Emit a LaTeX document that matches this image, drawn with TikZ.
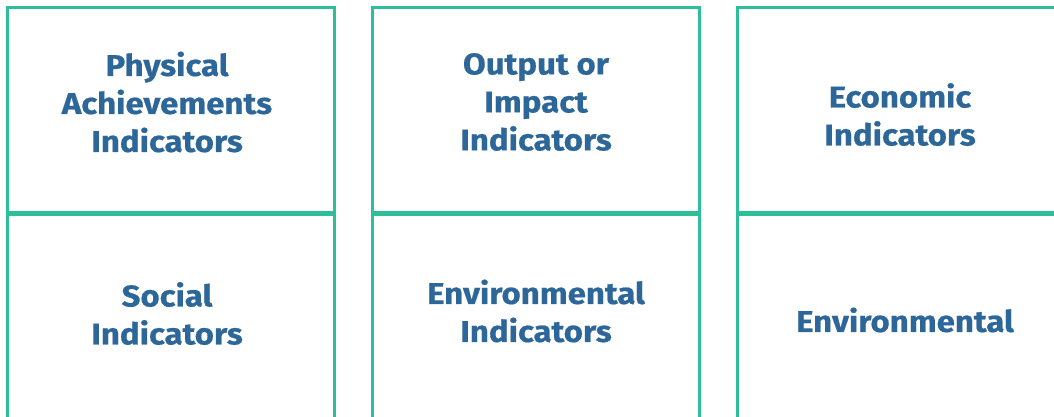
\documentclass[tikz,border=0pt]{standalone}
\usepackage{fontspec}
\setmainfont{Fira Sans}[BoldFont={Fira Sans Bold},BoldFeatures={FakeStretch=1.1,FakeBold=0.6}]
\definecolor{teal}{HTML}{2EBE9A}
\definecolor{ink}{HTML}{2D6699}
\begin{document}
\begin{tikzpicture}[x=1pt,y=-1pt,
  frame/.style={draw=teal,line width=3pt},
  divider/.style={draw=teal,line width=4.5pt},
  lbl/.style={text=ink,font=\bfseries\fontsize{30}{38}\selectfont,align=center,inner sep=0pt}]
\useasboundingbox (0,0) rectangle (1054,416);
% column outlines
\draw[frame] (7.5,430) -- (7.5,7.5) -- (334.5,7.5) -- (334.5,430);
\draw[frame] (372,430) -- (372,7.5) -- (699.7,7.5) -- (699.7,430);
\draw[frame] (737,430) -- (737,7.5) -- (1070,7.5);
% dividers
\draw[divider] (7.5,213.5) -- (334.5,213.5);
\draw[divider] (372,213.5) -- (699.7,213.5);
\draw[divider] (737,213.5) -- (1070,213.5);
% labels
\node[lbl] (a) at (167,102) {Physical\\Achievements\\Indicators};
\node[lbl] (b) at (536,102) {Output or\\Impact\\Indicators};
\node[lbl] (c) at (900,114.5) {Economic\\Indicators};
\node[lbl] (d) at (167,313.5) {Social\\Indicators};
\node[lbl] (e) at (536,311) {Environmental\\Indicators};
\node[lbl] (f) at (905,320) {Environmental};
\end{tikzpicture}
\end{document}
